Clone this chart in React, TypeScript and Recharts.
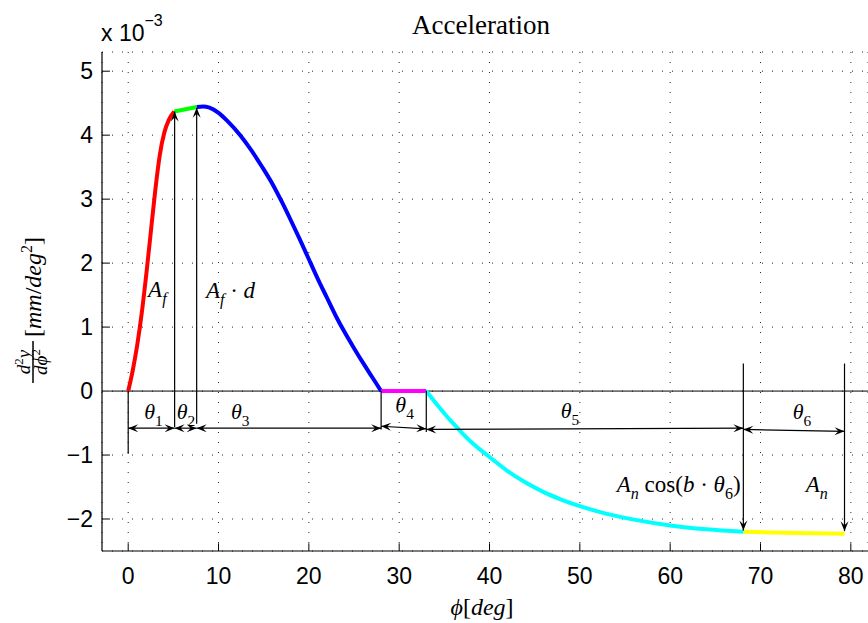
import { LineChart, Line, XAxis, YAxis, CartesianGrid, ReferenceLine, ReferenceDot } from 'recharts';

// curve pieces, acceleration in units of 1e-3
const redPhi = [0, 0.5, 1, 1.5, 2, 2.5, 3, 3.5, 4, 4.5, 5.1];
const redAcc = [0, 0.32, 0.72, 1.22, 1.82, 2.48, 3.14, 3.69, 4.04, 4.24, 4.37];

const greenPhi = [5.1, 7.6];
const greenAcc = [4.37, 4.44];

const bluePhi = [7.6, 8.3, 9, 10, 11, 12.4, 13.6, 14.8, 16, 17, 18, 19, 20, 21, 22, 23, 24, 25, 26, 27, 28];
const blueAcc = [
  4.44, 4.45, 4.43, 4.35, 4.22, 4.0, 3.77, 3.51, 3.23, 2.96, 2.67, 2.37, 2.06, 1.75, 1.46, 1.17, 0.91, 0.67,
  0.44, 0.22, 0,
];

const magentaPhi = [28.0, 33.0];
const magentaAcc = [0, 0];

const cyanPhi = [33, 34, 35, 36, 37, 38, 39, 40, 42, 44, 46, 48, 50, 53, 56, 60, 64, 68.1];
const cyanAcc = [
  0, -0.18, -0.35, -0.51, -0.66, -0.8, -0.92, -1.03, -1.25, -1.43, -1.58, -1.7, -1.8, -1.92, -2.01, -2.1, -2.16,
  -2.2,
];

const yellowPhi = [68.1, 74, 79.3];
const yellowAcc = [-2.2, -2.22, -2.23];

const xTicks = [0, 10, 20, 30, 40, 50, 60, 70, 80];
const yTicks = [-2, -1, 0, 1, 2, 3, 4, 5];

const X_DOMAIN: [number, number] = [-2.9, 81.9];
const Y_DOMAIN: [number, number] = [-2.5, 5.3];

// vertical guide lines: phi, from, to, arrow at the end
const guidePhi = [0, 5.14, 7.58, 28.0, 33.0, 68.1, 79.3];
const guideFrom = [0, -0.56, -0.51, 0, 0, 0.43, 0.43];
const guideTo = [-0.98, 4.37, 4.43, -0.6, -0.64, -2.18, -2.19];
const guideHead = [false, true, true, false, false, true, true];

// dimension arrows between the boundaries
const dimFrom = [0, 5.14, 7.58, 28.0, 33.0, 68.1];
const dimTo = [5.14, 7.58, 28.0, 33.0, 68.1, 79.3];
const dimY1 = [-0.58, -0.58, -0.58, -0.55, -0.6, -0.6];
const dimY2 = [-0.58, -0.58, -0.58, -0.59, -0.58, -0.63];

type Part = { t: string; i?: boolean; sub?: boolean; sup?: boolean };

const labels: { phi: number; acc: number; anchor: 'start' | 'middle' | 'end'; size: number; parts: Part[] }[] = [
  { phi: 2.8, acc: -0.44, anchor: 'middle', size: 22, parts: [{ t: 'θ', i: true }, { t: '1', sub: true }] },
  { phi: 6.4, acc: -0.44, anchor: 'middle', size: 22, parts: [{ t: 'θ', i: true }, { t: '2', sub: true }] },
  { phi: 12.4, acc: -0.44, anchor: 'middle', size: 22, parts: [{ t: 'θ', i: true }, { t: '3', sub: true }] },
  { phi: 30.6, acc: -0.33, anchor: 'middle', size: 22, parts: [{ t: 'θ', i: true }, { t: '4', sub: true }] },
  { phi: 48.9, acc: -0.42, anchor: 'middle', size: 22, parts: [{ t: 'θ', i: true }, { t: '5', sub: true }] },
  { phi: 74.6, acc: -0.44, anchor: 'middle', size: 22, parts: [{ t: 'θ', i: true }, { t: '6', sub: true }] },
  { phi: 2.2, acc: 1.47, anchor: 'start', size: 23, parts: [{ t: 'A', i: true }, { t: 'f', i: true, sub: true }] },
  {
    phi: 8.6, acc: 1.46, anchor: 'start', size: 23,
    parts: [{ t: 'A', i: true }, { t: 'f', i: true, sub: true }, { t: ' · ' }, { t: 'd', i: true }],
  },
  {
    phi: 67.8, acc: -1.58, anchor: 'end', size: 23,
    parts: [
      { t: 'A', i: true }, { t: 'n', i: true, sub: true }, { t: ' cos(' }, { t: 'b', i: true },
      { t: ' · ' }, { t: 'θ', i: true }, { t: '6', sub: true }, { t: ')' },
    ],
  },
  { phi: 75.0, acc: -1.58, anchor: 'start', size: 23, parts: [{ t: 'A', i: true }, { t: 'n', i: true, sub: true }] },
];

const SERIF = "'Liberation Serif', 'Times New Roman', serif";
const SANS = "'Liberation Sans', Arial, Helvetica, sans-serif";

const toRows = (phi: number[], acc: number[]) => phi.map((p, i) => ({ phi: p, acc: acc[i] }));

const segments = [
  { color: '#ff0000', rows: toRows(redPhi, redAcc) },
  { color: '#00ff00', rows: toRows(greenPhi, greenAcc) },
  { color: '#0000ff', rows: toRows(bluePhi, blueAcc) },
  { color: '#ff00ff', rows: toRows(magentaPhi, magentaAcc) },
  { color: '#00ffff', rows: toRows(cyanPhi, cyanAcc) },
  { color: '#ffff00', rows: toRows(yellowPhi, yellowAcc) },
];

const fmt = (v: number) => (v < 0 ? `\u2212${-v}` : `${v}`);

const headPoints = (tx: number, ty: number, fx: number, fy: number) => {
  const dx = tx - fx;
  const dy = ty - fy;
  const len = Math.hypot(dx, dy) || 1;
  const ux = dx / len;
  const uy = dy / len;
  const nx = -uy;
  const ny = ux;
  const L = 10, Wd = 4, N = 6;
  return [
    `${tx},${ty}`,
    `${tx - L * ux + Wd * nx},${ty - L * uy + Wd * ny}`,
    `${tx - N * ux},${ty - N * uy}`,
    `${tx - L * ux - Wd * nx},${ty - L * uy - Wd * ny}`,
  ].join(' ');
};

const arrowShape = (start: boolean, end: boolean) => (p: any) => {
  const { x1, y1, x2, y2 } = p;
  return (
    <g>
      <line x1={x1} y1={y1} x2={x2} y2={y2} stroke="#000" strokeWidth={1.2} />
      {end && <polygon points={headPoints(x2, y2, x1, y1)} fill="#000" />}
      {start && <polygon points={headPoints(x1, y1, x2, y2)} fill="#000" />}
    </g>
  );
};

const mathSpans = (parts: Part[], size: number) => {
  let shift = 0;
  return parts.map((p, i) => {
    const target = p.sub ? size * 0.3 : p.sup ? -size * 0.4 : 0;
    const dy = target - shift;
    shift = target;
    return (
      <tspan key={i} dy={dy} fontSize={p.sub || p.sup ? size * 0.7 : size} fontStyle={p.i ? 'italic' : 'normal'}>
        {p.t}
      </tspan>
    );
  });
};

const labelShape = (l: (typeof labels)[number]) => (p: any) => (
  <text x={p.cx} y={p.cy} textAnchor={l.anchor} fontFamily={SERIF} fontSize={l.size} fill="#000">
    {mathSpans(l.parts, l.size)}
  </text>
);

export default function App() {
  const W = 868;
  const H = 623;
  const xTickLen = 0.12; // inward tick length in y units
  const yTickLen = 0.88; // inward tick length in x units

  return (
    <div style={{ position: 'absolute', left: 0, top: 0, width: W, height: H, background: '#fff' }}>
      <LineChart width={W} height={H} margin={{ top: 52, right: 0, bottom: 42, left: 42 }}>
        <CartesianGrid strokeDasharray="1 9" stroke="#000" strokeOpacity={0.85} />
        <XAxis
          dataKey="phi"
          type="number"
          domain={X_DOMAIN}
          ticks={xTicks}
          interval={0}
          allowDataOverflow
          tickLine={false}
          tickSize={0}
          tickMargin={17}
          height={30}
          axisLine={{ stroke: '#000', strokeWidth: 1.2 }}
          tick={{ fontSize: 23, fill: '#000', fontFamily: SANS }}
          tickFormatter={fmt}
        />
        <YAxis
          dataKey="acc"
          type="number"
          domain={Y_DOMAIN}
          ticks={yTicks}
          interval={0}
          allowDataOverflow
          tickLine={false}
          tickSize={0}
          tickMargin={9}
          width={60}
          axisLine={{ stroke: '#000', strokeWidth: 1.2 }}
          tick={{ fontSize: 23, fill: '#000', fontFamily: SANS }}
          tickFormatter={fmt}
        />

        {xTicks.map((t) => (
          <ReferenceLine
            key={`xt${t}`}
            segment={[{ x: t, y: Y_DOMAIN[0] }, { x: t, y: Y_DOMAIN[0] + xTickLen }]}
            stroke="#000"
            strokeWidth={1}
            ifOverflow="visible"
          />
        ))}
        {yTicks.map((t) => (
          <ReferenceLine
            key={`yt${t}`}
            segment={[{ x: X_DOMAIN[0], y: t }, { x: X_DOMAIN[0] + yTickLen, y: t }]}
            stroke="#000"
            strokeWidth={1}
            ifOverflow="visible"
          />
        ))}

        <ReferenceLine
          segment={[{ x: -2.0, y: 0 }, { x: X_DOMAIN[1], y: 0 }]}
          stroke="#000"
          strokeWidth={1}
          ifOverflow="visible"
        />

        {segments.map((s, i) => (
          <Line
            key={i}
            data={s.rows}
            dataKey="acc"
            type="monotone"
            stroke={s.color}
            strokeWidth={4}
            dot={false}
            activeDot={false}
            isAnimationActive={false}
          />
        ))}

        {guidePhi.map((x, i) => (
          <ReferenceLine
            key={`g${i}`}
            segment={[{ x, y: guideFrom[i] }, { x, y: guideTo[i] }]}
            ifOverflow="visible"
            shape={arrowShape(false, guideHead[i])}
          />
        ))}
        {dimFrom.map((x, i) => (
          <ReferenceLine
            key={`d${i}`}
            segment={[{ x, y: dimY1[i] }, { x: dimTo[i], y: dimY2[i] }]}
            ifOverflow="visible"
            shape={arrowShape(true, true)}
          />
        ))}
        {labels.map((l, i) => (
          <ReferenceDot key={`l${i}`} x={l.phi} y={l.acc} r={0} ifOverflow="visible" shape={labelShape(l)} />
        ))}
      </LineChart>

      <svg width={W} height={H} style={{ position: 'absolute', left: 0, top: 0, pointerEvents: 'none' }}>
        <text x={481} y={34} textAnchor="middle" fontFamily={SERIF} fontSize={27} fill="#000">
          Acceleration
        </text>
        <text x={101} y={41} fontFamily={SANS} fontSize={23} fill="#000">
          x 10
          <tspan dy={-15} fontSize={16}>
            −3
          </tspan>
        </text>
        <text x={482} y={615} textAnchor="middle" fontFamily={SERIF} fontSize={24} fill="#000">
          <tspan fontStyle="italic">ϕ</tspan>[<tspan fontStyle="italic">deg</tspan>]
        </text>
        <g transform="translate(33, 303) rotate(-90)" fontFamily={SERIF} fill="#000">
          <text x={-59} y={-3} textAnchor="middle" fontSize={19} fontStyle="italic">
            d<tspan dy={-7} fontSize={13} fontStyle="normal">2</tspan>
            <tspan dy={7}>y</tspan>
          </text>
          <line x1={-80} y1={0} x2={-38} y2={0} stroke="#000" strokeWidth={1.5} />
          <text x={-59} y={14} textAnchor="middle" fontSize={19} fontStyle="italic">
            dϕ<tspan dy={-7} fontSize={13} fontStyle="normal">2</tspan>
          </text>
          <text x={-34} y={8} fontSize={24}>
            [<tspan fontStyle="italic">mm</tspan>/<tspan fontStyle="italic">deg</tspan>
            <tspan dy={-9} fontSize={16}>2</tspan>
            <tspan dy={9}>]</tspan>
          </text>
        </g>
      </svg>
    </div>
  );
}
